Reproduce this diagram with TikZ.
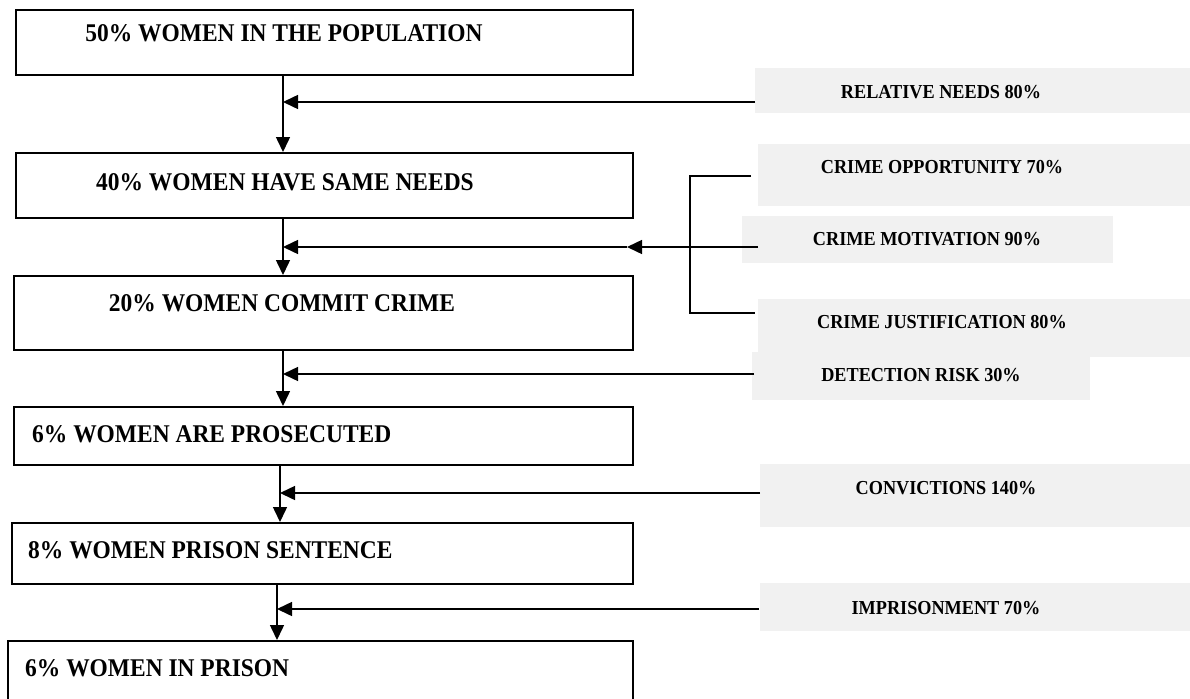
\documentclass[tikz,border=0pt]{standalone}
\usepackage{fontspec}
\setmainfont[FakeStretch=0.92]{Liberation Serif}
\usetikzlibrary{arrows.meta}
\definecolor{boxgray}{RGB}{241,241,241}
\tikzset{
  flowbox/.style={draw=black, line width=1.7pt, fill=white, inner sep=0pt, anchor=north west, rectangle},
  sidebox/.style={fill=boxgray, draw=none, inner sep=0pt, anchor=north west, rectangle},
  flowtext/.style={font=\bfseries\fontsize{25.5}{28}\selectfont, inner sep=0pt},
  sidetext/.style={font=\bfseries\fontsize{19.8}{22}\selectfont, inner sep=0pt},
  conn/.style={line width=1.5pt, draw=black},
  arr/.style={conn, -{Triangle[length=15pt,width=14pt]}},
}
\begin{document}
\begin{tikzpicture}[x=1pt,y=-1pt]
\useasboundingbox (0,0) rectangle (1190,698);
% left flow boxes
\node[flowbox, minimum width=617pt, minimum height=65pt] (b1) at (15,9) {};
\node[flowbox, minimum width=617pt, minimum height=65pt] (b2) at (15,152) {};
\node[flowbox, minimum width=619pt, minimum height=74pt] (b3) at (13,275) {};
\node[flowbox, minimum width=619pt, minimum height=58pt] (b4) at (13,406) {};
\node[flowbox, minimum width=621pt, minimum height=61pt] (b5) at (11,522) {};
\node[flowbox, minimum width=625pt, minimum height=70pt] (b6) at (7,640) {};
\node[flowtext] (t1) at (284,33) {50\% WOMEN IN THE POPULATION};
\node[flowtext] (t2) at (285,182) {40\% WOMEN HAVE SAME NEEDS};
\node[flowtext] (t3) at (282,303) {20\% WOMEN COMMIT CRIME};
\node[flowtext, anchor=west] (t4) at (32,434) {6\% WOMEN ARE PROSECUTED};
\node[flowtext, anchor=west] (t5) at (28,550) {8\% WOMEN PRISON SENTENCE};
\node[flowtext, anchor=west] (t6) at (25,668) {6\% WOMEN IN PRISON};
% right side boxes
\node[sidebox, minimum width=435pt, minimum height=45pt] (r1) at (755,68) {};
\node[sidebox, minimum width=432pt, minimum height=62pt] (r2) at (758,144) {};
\node[sidebox, minimum width=371pt, minimum height=47pt] (r3) at (742,216) {};
\node[sidebox, minimum width=432pt, minimum height=58pt] (r4) at (758,299) {};
\node[sidebox, minimum width=338pt, minimum height=48pt] (r5) at (752,352) {};
\node[sidebox, minimum width=430pt, minimum height=63pt] (r6) at (760,464) {};
\node[sidebox, minimum width=430pt, minimum height=48pt] (r7) at (760,583) {};
\node[sidetext] (s1) at (941,92) {RELATIVE NEEDS 80\%};
\node[sidetext] (s2) at (942,167) {CRIME OPPORTUNITY 70\%};
\node[sidetext] (s3) at (927,239) {CRIME MOTIVATION 90\%};
\node[sidetext] (s4) at (942,322) {CRIME JUSTIFICATION 80\%};
\node[sidetext] (s5) at (921,375) {DETECTION RISK 30\%};
\node[sidetext] (s6) at (946,488) {CONVICTIONS 140\%};
\node[sidetext] (s7) at (946,608) {IMPRISONMENT 70\%};
% vertical flow lines
\coordinate (v1) at (283,0);
\coordinate (v2) at (283,0);
\coordinate (v3) at (283,0);
\coordinate (v4) at (280,0);
\coordinate (v5) at (277,0);
\draw[arr] (b1.south -| v1) -- (b2.north -| v1);
\draw[arr] (b2.south -| v2) -- (b3.north -| v2);
\draw[arr] (b3.south -| v3) -- (b4.north -| v3);
\draw[arr] (b4.south -| v4) -- (b5.north -| v4);
\draw[arr] (b5.south -| v5) -- (b6.north -| v5);
% side connectors
\coordinate (a1) at (755,102);
\draw[arr] (a1) -- (a1 -| v1);
\coordinate (o1) at (751,176);
\coordinate (j1) at (755,313);
\coordinate (br) at (690,0);
\draw[conn] (o1) -- (o1 -| br) -- (j1 -| br) -- (j1);
\coordinate (m1) at (758,247);
\coordinate (m2) at (627,247);
\draw[arr] (m1) -- (m2);
\draw[conn, line width=2.4pt] (m2 -| br) -- (645,247);
\draw[arr] (m2) -- (m2 -| v2);
\coordinate (d1) at (754,374);
\draw[arr] (d1) -- (d1 -| v3);
\coordinate (c1) at (760,493);
\draw[arr] (c1) -- (c1 -| v4);
\coordinate (i1) at (759,609);
\draw[arr] (i1) -- (i1 -| v5);
\end{tikzpicture}
\end{document}
